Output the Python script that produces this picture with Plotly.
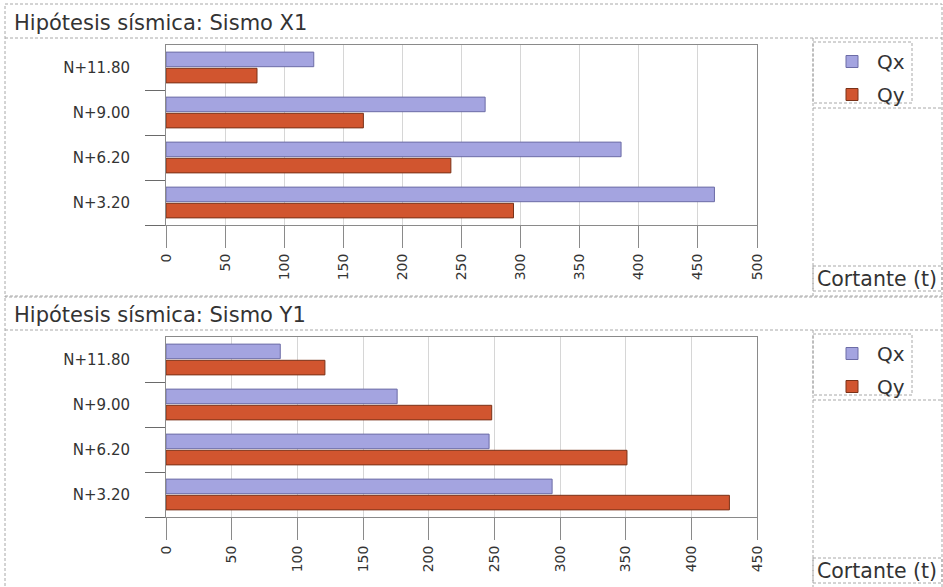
import plotly.graph_objects as go

# Storey levels (top to bottom) and seismic shear per storey, in tonnes
levels = ["N+11.80", "N+9.00", "N+6.20", "N+3.20"]

# Load case X1
x1_qx = [125, 270, 385, 464]
x1_qy = [77, 167, 241, 294]

# Load case Y1
y1_qx = [87, 176, 246, 294]
y1_qy = [121, 248, 351, 429]

panel_titles = ["Hipótesis sísmica: Sismo X1", "Hipótesis sísmica: Sismo Y1"]
axis_label = "Cortante (t)"
x1_ticks = list(range(0, 501, 50))
y1_ticks = list(range(0, 451, 50))

W, H = 943, 587
FONT = "DejaVu Sans"
TXT = "#333333"
QX_FILL, QX_LINE = "#a4a4e0", "#6c6ca6"
QY_FILL, QY_LINE = "#d1552f", "#7a3218"
DASH = "#a8a8a8"

# storeys sit at integer slots; separators between storeys fall on half slots
slots = list(range(len(levels)))
separators = [s + 0.5 for s in slots]


def px(x):
    return x / W


def py(y):
    return 1 - y / H


fig = go.Figure()

panels = [
    dict(qx=x1_qx, qy=x1_qy, ticks=x1_ticks, xa="x", ya="y", leg="legend", off=0),
    dict(qx=y1_qx, qy=y1_qy, ticks=y1_ticks, xa="x2", ya="y2", leg="legend2", off=292),
]

for i, p in enumerate(panels):
    for name, vals, fill, line in (("Qx", p["qx"], QX_FILL, QX_LINE),
                                    ("Qy", p["qy"], QY_FILL, QY_LINE)):
        fig.add_trace(go.Bar(
            name=name, y=slots, x=vals, orientation="h",
            xaxis=p["xa"], yaxis=p["ya"], legend=p["leg"],
            legendgroup=f"{name}{i}",
            marker=dict(color=fill, line=dict(color=line, width=1)),
            customdata=levels,
            hovertemplate="%{customdata}: %{x} t<extra>" + name + "</extra>",
        ))

common_x = dict(
    showgrid=True, gridcolor="#d6d6d6", gridwidth=1, zeroline=False,
    showline=True, linecolor="#8a8a8a", linewidth=1, mirror=True,
    ticks="outside", ticklen=22, tickcolor="#8a8a8a", tickwidth=1,
    tickangle=-90, automargin=False,
    tickfont=dict(family=FONT, size=14, color=TXT),
    domain=[px(166), px(757)], fixedrange=True,
)
common_y = dict(
    range=[len(levels) - 0.5, -0.5], showgrid=False, zeroline=False,
    showline=True, linecolor="#8a8a8a", linewidth=1, mirror=True,
    tickmode="array", tickvals=slots, ticktext=levels, ticks="",
    ticklabelstandoff=32, automargin=False,
    minor=dict(tickmode="array", tickvals=separators, ticks="outside",
               ticklen=20, tickcolor="#6a6a6a", tickwidth=1, showgrid=False),
    tickfont=dict(family=FONT, size=15, color=TXT), fixedrange=True,
)

fig.update_layout(
    width=W, height=H, margin=dict(l=0, r=0, t=0, b=0, autoexpand=False),
    paper_bgcolor="white", plot_bgcolor="white",
    barmode="group", bargap=0.28, bargroupgap=0.1,
    xaxis=dict(common_x, range=[0, 500], tickvals=x1_ticks, anchor="y"),
    yaxis=dict(common_y, domain=[py(225), py(45)], anchor="x"),
    xaxis2=dict(common_x, range=[0, 450], tickvals=y1_ticks, anchor="y2"),
    yaxis2=dict(common_y, domain=[py(517), py(337)], anchor="x2"),
    showlegend=True,
)

leg_common = dict(
    xanchor="left", yanchor="top", bgcolor="rgba(0,0,0,0)",
    font=dict(family=FONT, size=20, color=TXT),
    itemwidth=40, traceorder="grouped", tracegroupgap=4,
)
fig.update_layout(
    legend=dict(leg_common, x=px(827), y=py(42)),
    legend2=dict(leg_common, x=px(827), y=py(42 + 292)),
)

shapes = []
annotations = []


def dline(x0, y0, x1, y1):
    shapes.append(dict(type="line", xref="paper", yref="paper",
                       x0=px(x0), y0=py(y0), x1=px(x1), y1=py(y1),
                       line=dict(color=DASH, width=1, dash="3px,2px")))


def drect(x0, y0, x1, y1):
    shapes.append(dict(type="rect", xref="paper", yref="paper",
                       x0=px(x0), y0=py(y0), x1=px(x1), y1=py(y1),
                       line=dict(color=DASH, width=1, dash="3px,2px")))


for i, p in enumerate(panels):
    o = p["off"]
    # panel frame, title strip, side column and legend box
    drect(5, 4 + o, 942, 297 + o)
    dline(5, 38 + o, 942, 38 + o)
    dline(813, 38 + o, 813, 297 + o)
    drect(813, 42 + o, 912, 103 + o)
    dline(813, 108 + o, 942, 108 + o)
    drect(813, 266 + o, 942, 291 + o)
    annotations.append(dict(
        text=panel_titles[i], xref="paper", yref="paper",
        x=px(12), y=py(23 + o), xanchor="left", yanchor="middle",
        showarrow=False, font=dict(family=FONT, size=21, color=TXT)))
    annotations.append(dict(
        text=axis_label, xref="paper", yref="paper",
        x=px(815), y=py(279 + o), xanchor="left", yanchor="middle",
        showarrow=False, font=dict(family=FONT, size=20.5, color=TXT)))

fig.update_layout(shapes=shapes, annotations=annotations)

fig.write_html("out.html")
